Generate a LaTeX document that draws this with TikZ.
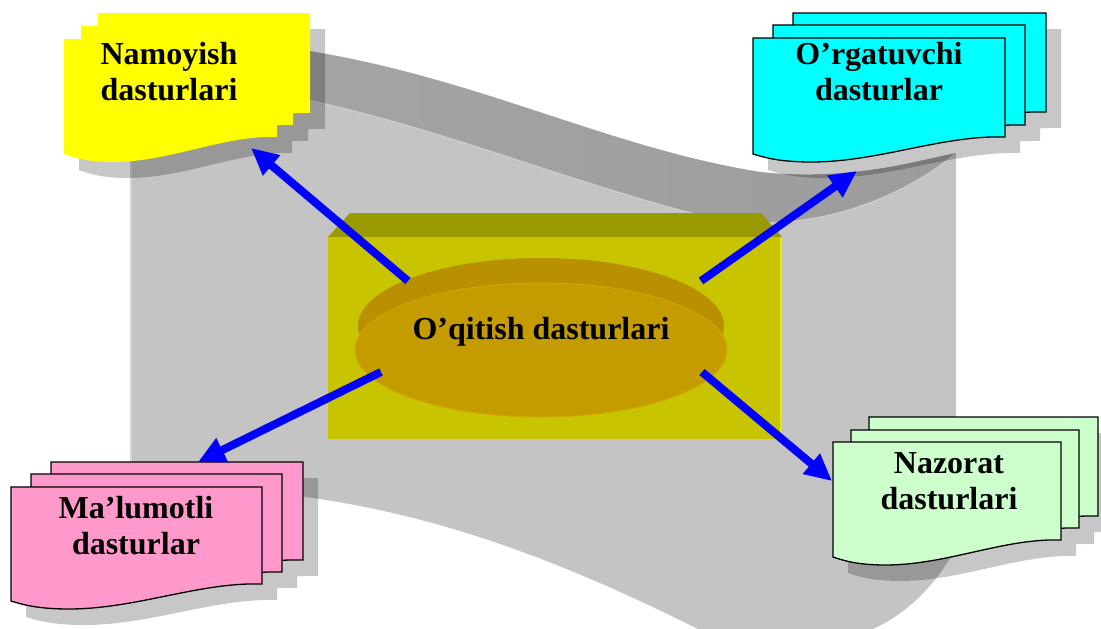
\documentclass[tikz,border=0pt]{standalone}
\usepackage{fontspec}
\setmainfont{Liberation Serif}
\usetikzlibrary{arrows.meta,shapes.geometric}
\definecolor{tapegray}{RGB}{196,196,196}
\definecolor{bandL}{RGB}{166,166,166}
\definecolor{bandM}{RGB}{184,184,184}
\definecolor{bandR}{RGB}{156,156,156}
\definecolor{boxfront}{RGB}{200,197,0}
\definecolor{boxtop}{RGB}{154,154,0}
\definecolor{boxedge}{RGB}{235,232,0}
\definecolor{rimside}{RGB}{184,144,0}
\definecolor{rimmid}{RGB}{152,122,0}
\definecolor{discface}{RGB}{196,156,0}
\definecolor{discedge}{RGB}{212,166,0}
\definecolor{arrowblue}{RGB}{0,0,255}
\definecolor{docyellow}{RGB}{255,255,0}
\definecolor{doccyan}{RGB}{0,255,255}
\definecolor{docpink}{RGB}{255,153,204}
\definecolor{docgreen}{RGB}{204,255,204}
\newcommand\docpage[4]{(#1,#2) -- (#3,#2) -- (#3,#4) .. controls ({#3-0.25*(#3-#1)},{#4-2}) and ({#1+0.5*(#3-#1)},{#4+25}) .. ({#1+0.23*(#3-#1)},{#4+25}) .. controls ({#1+0.1*(#3-#1)},{#4+25}) and ({#1+0.04*(#3-#1)},{#4+20}) .. (#1,{#4+17}) -- cycle}
\begin{document}
\begin{tikzpicture}[x=1pt,y=-1pt,
  lbl/.style={font=\fontsize{32}{36}\selectfont\bfseries, inner sep=0pt, align=center, anchor=base},
  conn/.style={draw=arrowblue, line width=8pt, -{Triangle[length=27pt,width=25pt]}},
  pageline/.style={draw=black, line width=1.3pt, line join=miter},
  docshadow/.style={fill=black, opacity=0.22, shift={(15,16)}}]
\useasboundingbox (0,0) rectangle (1101,629);
% background tape
\fill[tapegray] (130,40) .. controls (400,30) and (560,140) .. (760,172)
   .. controls (850,182) and (920,160) .. (956,153) -- (956,548)
   .. controls (900,650) and (800,662) .. (700,630)
   .. controls (520,540) and (350,480) .. (130,489) -- cycle;
\shade[left color=bandL, middle color=bandM, right color=bandR]
   (130,40) .. controls (400,30) and (560,140) .. (760,172)
   .. controls (850,182) and (920,160) .. (956,153)
   .. controls (900,200) and (800,240) .. (700,215)
   .. controls (520,170) and (330,78) .. (130,80) -- cycle;
\draw[white, opacity=0.35, line width=1pt] (956,153) .. controls (900,200) and (800,240) .. (700,215)
   .. controls (520,170) and (330,78) .. (130,80);
\draw[white, opacity=0.4, line width=2pt] (957,153) -- (957,548);
\draw[white, opacity=0.3, line width=2pt] (131,40) -- (131,489);
% shadows of the document stacks
\fill[docshadow] \docpage{98}{13}{310}{113} \docpage{81}{26}{293}{125} \docpage{64}{39}{277}{137};
\fill[docshadow] \docpage{793}{13}{1046}{112} \docpage{773}{25}{1025}{125} \docpage{753}{38}{1005}{137};
\fill[docshadow] \docpage{51}{462}{303}{560} \docpage{31}{474}{282}{572} \docpage{11}{487}{262}{584};
\fill[docshadow] \docpage{869}{417}{1098}{516} \docpage{851}{430}{1079}{528} \docpage{833}{442}{1061}{540};
% central box
\fill[boxtop] (328,237) -- (350,213) -- (761,213) -- (782,237) -- cycle;
\fill[boxfront] (328,237) rectangle (782,439);
\draw[boxedge, line width=1.5pt] (781,237) -- (781,439);
% disc
\shade[left color=rimside, middle color=rimmid, right color=rimside] (541,326) ellipse [x radius=183, y radius=68];
\node[ellipse, fill=discface, draw=discedge, line width=1pt, minimum width=372pt, minimum height=134pt, inner sep=0pt] (disc) at (541,350) {};
\node[lbl] (center) at (541,339) {O’qitish dasturlari};
% document stacks
\fill[docyellow] \docpage{98}{13}{310}{113} \docpage{81}{26}{293}{125} \docpage{64}{39}{277}{137};
\node[lbl] (namoyish) at (169,100) {Namoyish\\dasturlari};
\filldraw[fill=doccyan, pageline] \docpage{793}{13}{1046}{112};
\filldraw[fill=doccyan, pageline] \docpage{773}{25}{1025}{125};
\filldraw[fill=doccyan, pageline] \docpage{753}{38}{1005}{137};
\node[lbl] (orgatuvchi) at (879,100) {O’rgatuvchi\\dasturlar};
\filldraw[fill=docpink, pageline] \docpage{51}{462}{303}{560};
\filldraw[fill=docpink, pageline] \docpage{31}{474}{282}{572};
\filldraw[fill=docpink, pageline] \docpage{11}{487}{262}{584};
\node[lbl] (malumotli) at (136,554) {Ma’lumotli\\dasturlar};
\filldraw[fill=docgreen, pageline] \docpage{869}{417}{1098}{516};
\filldraw[fill=docgreen, pageline] \docpage{851}{430}{1079}{528};
\filldraw[fill=docgreen, pageline] \docpage{833}{442}{1061}{540};
\node[lbl] (nazorat) at (949,509) {Nazorat\\dasturlari};
% connectors
\coordinate (s1) at (408,281);
\coordinate (e1) at (251,148);
\coordinate (s2) at (701,281);
\coordinate (e2) at (857,171);
\coordinate (s3) at (381,372);
\coordinate (e3) at (198,462);
\coordinate (s4) at (702,372);
\coordinate (e4) at (832,481);
\draw[conn] (s1) -- (e1);
\draw[conn] (s2) -- (e2);
\draw[conn] (s3) -- (e3);
\draw[conn] (s4) -- (e4);
\end{tikzpicture}
\end{document}
